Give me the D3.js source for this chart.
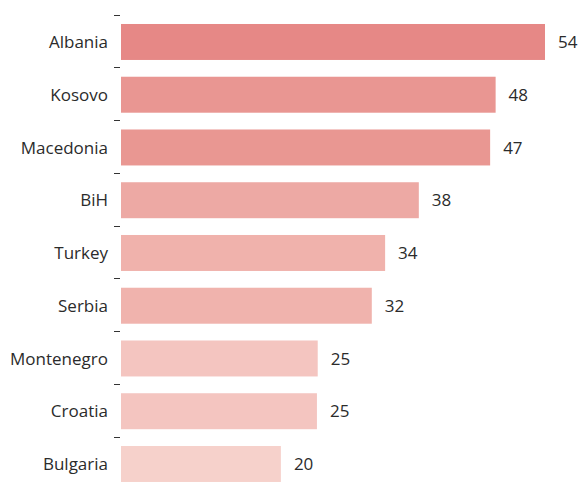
<!DOCTYPE html>
<html><head><meta charset="utf-8">
<script src="https://cdn.jsdelivr.net/npm/d3@7"></script>
<style>body{margin:0;background:#fff;} svg{display:block;}</style>
</head><body>
<svg id="c" width="579" height="484"></svg>
<script>
const categories = ["Albania","Kosovo","Macedonia","BiH","Turkey","Serbia","Montenegro","Croatia","Bulgaria"];
const values = [54.1, 47.8, 47.1, 38.0, 33.7, 32.0, 25.1, 25.0, 20.4];
const labels = ["54","48","47","38","34","32","25","25","20"];
const colors = ["#e68886","#e99692","#e99792","#eda9a4","#f0b2ac","#f0b3ad","#f4c5c0","#f4c5c0","#f6d1cb"];

const svg = d3.select("#c");
const x0 = 121;
const x = d3.scaleLinear().domain([0, 54.1]).range([x0, 545]);
const y = d3.scaleBand().domain(categories).range([15.6, 15.6 + 52.75*9]).paddingInner(0.318).paddingOuter(0.159);

const font = "'Open Sans', 'Noto Sans', sans-serif";
const fs = 17;

// ticks between categories
svg.append("g").selectAll("line").data(categories).join("line")
  .attr("x1", 114).attr("x2", 120)
  .attr("y1", d => Math.round(y(d) - y.step()*y.paddingInner()/2 - 1) + 0.5)
  .attr("y2", d => Math.round(y(d) - y.step()*y.paddingInner()/2 - 1) + 0.5)
  .attr("stroke", "#333").attr("stroke-width", 1);

svg.append("g").selectAll("rect").data(categories).join("rect")
  .attr("x", x0)
  .attr("y", d => y(d))
  .attr("width", (d,i) => x(values[i]) - x0)
  .attr("height", y.bandwidth())
  .attr("fill", (d,i) => colors[i]);

svg.append("g").selectAll("text").data(categories).join("text")
  .attr("x", 108)
  .attr("y", d => y(d) + y.bandwidth()/2)
  .attr("dy", "0.36em")
  .attr("text-anchor", "end")
  .attr("font-family", font).attr("font-size", fs).attr("fill", "#2b2b2b")
  .text(d => d);

svg.append("g").selectAll("text").data(categories).join("text")
  .attr("x", (d,i) => x(values[i]) + 13)
  .attr("y", d => y(d) + y.bandwidth()/2)
  .attr("dy", "0.36em")
  .attr("font-family", font).attr("font-size", fs).attr("fill", "#2b2b2b")
  .text((d,i) => labels[i]);
</script>
</body></html>
